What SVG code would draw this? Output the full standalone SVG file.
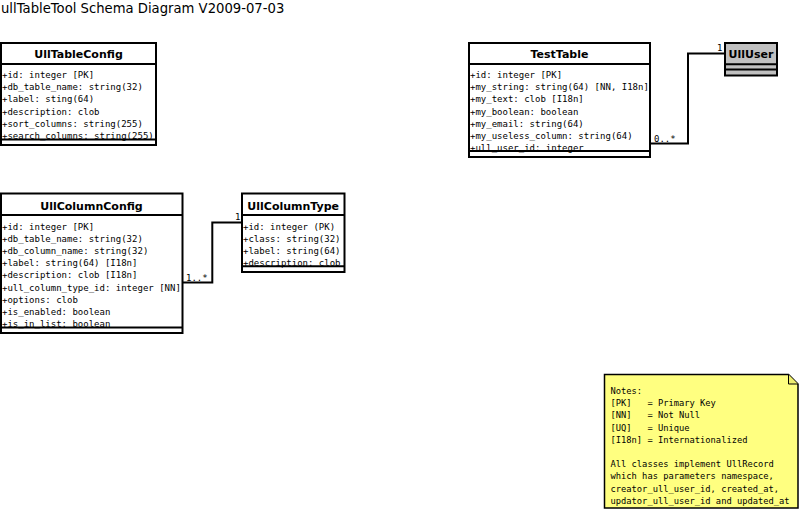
<svg xmlns="http://www.w3.org/2000/svg" width="800" height="511" viewBox="0 0 800 511">
<style>
.box{fill:#ffffff;stroke:#000;stroke-width:2}
.gray{fill:#c0c0c0;stroke:#000;stroke-width:2}
.ln{stroke:#000;stroke-width:2;fill:none}
.hd{font-family:"DejaVu Sans",sans-serif;font-weight:bold;font-size:11px;text-anchor:middle}
.at{font-family:"DejaVu Sans Mono",monospace;font-size:9px}
.nt{font-family:"DejaVu Sans Mono",monospace;font-size:8.75px}
.title{font-family:"DejaVu Sans",sans-serif;font-size:13.2px}
.conn{stroke:#000;stroke-width:2;fill:none}
</style>
<rect width="800" height="511" fill="#fff"/>
<text class="title" x="1" y="13">ullTableTool Schema Diagram V2009-07-03</text>

<g id="UllTableConfig">
<rect class="box" x="1" y="43" width="155" height="102"/>
<line class="ln" x1="1" y1="64" x2="156" y2="64"/>
<text class="hd" x="78.5" y="58">UllTableConfig</text>
<text class="at" x="2" y="78">+id: integer [PK]</text>
<text class="at" x="2" y="90.2">+db_table_name: string(32)</text>
<text class="at" x="2" y="102.4">+label: sting(64)</text>
<text class="at" x="2" y="114.6">+description: clob</text>
<text class="at" x="2" y="126.8">+sort_columns: string(255)</text>
<text class="at" x="2" y="139">+search_columns: string(255)</text>
<line class="ln" x1="1" y1="139.5" x2="156" y2="139.5"/>
</g>

<g id="TestTable">
<rect class="box" x="469" y="43" width="181" height="114"/>
<line class="ln" x1="469" y1="64" x2="650" y2="64"/>
<text class="hd" x="559.5" y="58">TestTable</text>
<text class="at" x="470" y="78">+id: integer [PK]</text>
<text class="at" x="470" y="90.2">+my_string: string(64) [NN, I18n]</text>
<text class="at" x="470" y="102.4">+my_text: clob [I18n]</text>
<text class="at" x="470" y="114.6">+my_boolean: boolean</text>
<text class="at" x="470" y="126.8">+my_email: string(64)</text>
<text class="at" x="470" y="139">+my_useless_column: string(64)</text>
<text class="at" x="470" y="151.2">+ull_user_id: integer</text>
<line class="ln" x1="469" y1="151" x2="650" y2="151"/>
</g>

<g id="UllUser">
<rect class="gray" x="725" y="43" width="52" height="32.5"/>
<line class="ln" x1="725" y1="64.3" x2="777" y2="64.3"/>
<line class="ln" x1="725" y1="69.5" x2="777" y2="69.5"/>
<text class="hd" x="751" y="58">UllUser</text>
</g>

<g id="UllColumnConfig">
<rect class="box" x="1" y="193.5" width="181.5" height="139.5"/>
<line class="ln" x1="1" y1="215" x2="182.5" y2="215"/>
<text class="hd" x="91.5" y="210">UllColumnConfig</text>
<text class="at" x="2" y="229.5">+id: integer [PK]</text>
<text class="at" x="2" y="241.7">+db_table_name: string(32)</text>
<text class="at" x="2" y="253.9">+db_column_name: string(32)</text>
<text class="at" x="2" y="266.1">+label: string(64) [I18n]</text>
<text class="at" x="2" y="278.3">+description: clob [I18n]</text>
<text class="at" x="2" y="290.5">+ull_column_type_id: integer [NN]</text>
<text class="at" x="2" y="302.7">+options: clob</text>
<text class="at" x="2" y="314.9">+is_enabled: boolean</text>
<text class="at" x="2" y="327.1">+is_in_list: boolean</text>
<line class="ln" x1="1" y1="327.5" x2="182.5" y2="327.5"/>
</g>

<g id="UllColumnType">
<rect class="box" x="242" y="193.5" width="102.5" height="78.5"/>
<line class="ln" x1="242" y1="215" x2="344.5" y2="215"/>
<text class="hd" x="293.2" y="210">UllColumnType</text>
<text class="at" x="243" y="229.5">+id: integer (PK)</text>
<text class="at" x="243" y="241.7">+class: string(32)</text>
<text class="at" x="243" y="253.9">+label: string(64)</text>
<text class="at" x="243" y="266.1">+description: clob</text>
<line class="ln" x1="242" y1="266.3" x2="344.5" y2="266.3"/>
</g>

<g id="Notes">
<path d="M604.5,374.5 H788.5 L798,384 V508 H604.5 Z" fill="#ffff80" stroke="#000" stroke-width="1.5"/>
<path d="M788.5,374.5 V384 H798" fill="#eeee70" stroke="#000" stroke-width="1"/>
<text class="nt" x="610.5" y="394">Notes:</text>
<text class="nt" x="610.5" y="406.2" xml:space="preserve">[PK]   = Primary Key</text>
<text class="nt" x="610.5" y="418.4" xml:space="preserve">[NN]   = Not Null</text>
<text class="nt" x="610.5" y="430.6" xml:space="preserve">[UQ]   = Unique</text>
<text class="nt" x="610.5" y="442.8">[I18n] = Internationalized</text>
<text class="nt" x="610.5" y="467.2">All classes implement UllRecord</text>
<text class="nt" x="610.5" y="479.4">which has parameters namespace,</text>
<text class="nt" x="610.5" y="491.6">creator_ull_user_id, created_at,</text>
<text class="nt" x="610.5" y="503.8">updator_ull_user_id and updated_at</text>
</g>

<g id="connectors">
<polyline class="conn" points="650,143.5 688,143.5 688,53.5 725,53.5"/>
<text class="at" x="654" y="142">0..*</text>
<text class="at" x="717" y="51">1</text>
<polyline class="conn" points="182.5,282.5 212.3,282.5 212.3,222.5 242,222.5"/>
<text class="at" x="186" y="281">1..*</text>
<text class="at" x="235" y="220">1</text>
</g>
</svg>
